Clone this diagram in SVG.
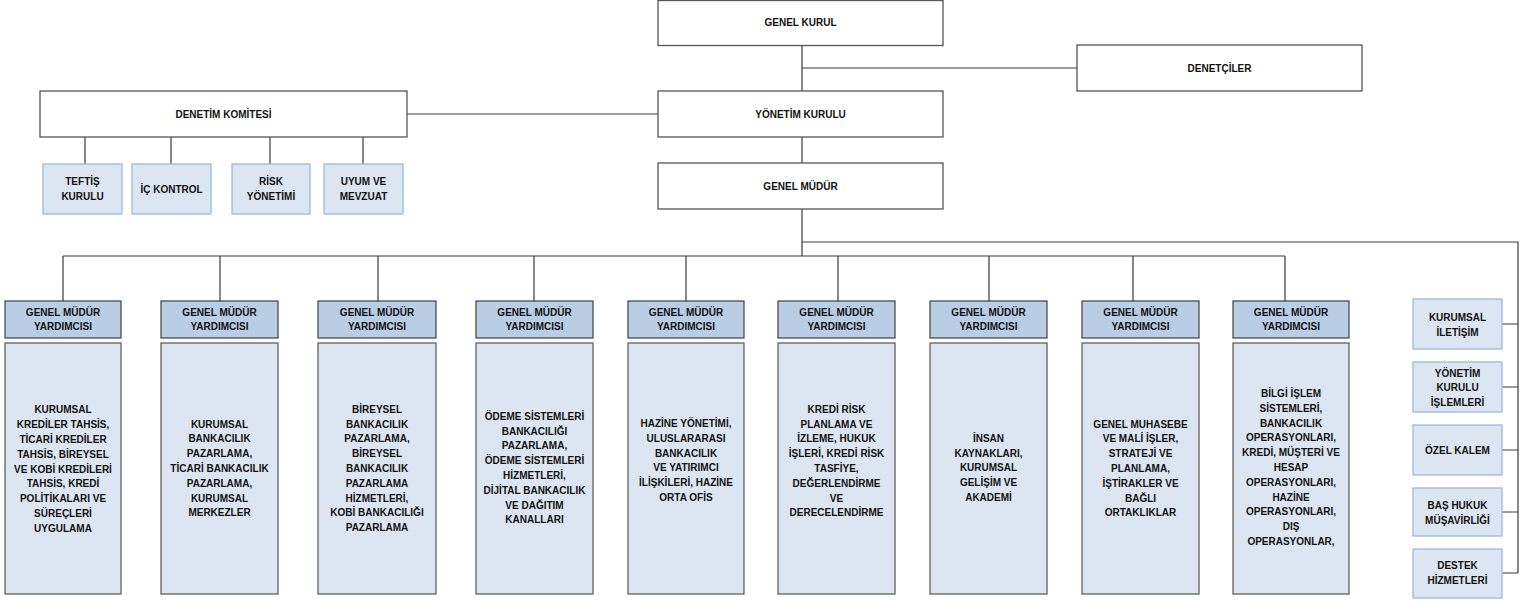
<svg xmlns="http://www.w3.org/2000/svg" width="1523" height="602" viewBox="0 0 1523 602">
<style>
text{font-family:"Liberation Sans",Arial,sans-serif;font-weight:bold;font-size:10px;fill:#111;text-anchor:middle}
.top{fill:#fff;stroke:#555;stroke-width:1.3}
.hdr{fill:#b9cde5;stroke:#404040;stroke-width:1.2}
.body{fill:#dce6f2;stroke:#555;stroke-width:1.2}
.sm{fill:#dce6f2;stroke:#9bb9dc;stroke-width:1.3}
.ln{stroke:#3a3a3a;stroke-width:1.2;fill:none}
</style>
<rect width="1523" height="602" fill="#fff"/>
<g id="connectors">
<path class="ln" d="M802 46V91M802 68H1077M407 114H658M802 137V163M802 209V256M63 256H1285"/>
<path class="ln" d="M63 256V301M220 256V301M378 256V301M534 256V301M686 256V301M838 256V301M989 256V301M1133 256V301M1285 256V301"/>
<path class="ln" stroke="#666" d="M802 242H1518V573M1502 324H1518M1502 387H1518M1502 450H1518M1502 512H1518M1502 573H1518"/>
<path class="ln" d="M85 137V164M171 137V164M270 137V164M363 137V164"/>
</g>
<g id="genel-kurul"><rect class="top" x="658" y="0.5" width="285" height="45"/><text x="800.5" y="25.5">GENEL KURUL</text></g>
<g id="denetciler"><rect class="top" x="1077" y="45" width="285" height="46"/><text x="1219.5" y="71.5">DENETÇİLER</text></g>
<g id="yonetim-kurulu"><rect class="top" x="658" y="91" width="285" height="46"/><text x="800.5" y="117.5">YÖNETİM KURULU</text></g>
<g id="denetim-komitesi"><rect class="top" x="40" y="91" width="367" height="46"/><text x="223.5" y="117.5">DENETİM KOMİTESİ</text></g>
<g id="genel-mudur"><rect class="top" x="658" y="163" width="285" height="46"/><text x="800.5" y="189.5">GENEL MÜDÜR</text></g>
<g id="teftis"><rect class="sm" x="43" y="164" width="79" height="50"/><text x="82.5" y="185"><tspan x="82.5">TEFTİŞ</tspan><tspan x="82.5" dy="15">KURULU</tspan></text></g>
<g id="ic-kontrol"><rect class="sm" x="132" y="164" width="79" height="50"/><text x="171.5" y="192.5">İÇ KONTROL</text></g>
<g id="risk"><rect class="sm" x="232" y="164" width="78" height="50"/><text x="271" y="185"><tspan x="271">RİSK</tspan><tspan x="271" dy="15">YÖNETİMİ</tspan></text></g>
<g id="uyum"><rect class="sm" x="324" y="164" width="79" height="50"/><text x="363.5" y="185"><tspan x="363.5">UYUM VE</tspan><tspan x="363.5" dy="15">MEVZUAT</tspan></text></g>

<g id="gmy1"><rect class="hdr" x="5" y="301" width="116" height="37"/><text y="316"><tspan x="63">GENEL MÜDÜR</tspan><tspan x="63" dy="14">YARDIMCISI</tspan></text>
<rect class="body" x="5" y="343" width="116" height="251"/><text y="413.3"><tspan x="63">KURUMSAL</tspan><tspan x="63" dy="14.8">KREDİLER TAHSİS,</tspan><tspan x="63" dy="14.8">TİCARİ KREDİLER</tspan><tspan x="63" dy="14.8">TAHSİS, BİREYSEL</tspan><tspan x="63" dy="14.8">VE KOBİ KREDİLERİ</tspan><tspan x="63" dy="14.8">TAHSİS, KREDİ</tspan><tspan x="63" dy="14.8">POLİTİKALARI VE</tspan><tspan x="63" dy="14.8">SÜREÇLERİ</tspan><tspan x="63" dy="14.8">UYGULAMA</tspan></text></g>

<g id="gmy2"><rect class="hdr" x="161" y="301" width="117" height="37"/><text y="316"><tspan x="219.5">GENEL MÜDÜR</tspan><tspan x="219.5" dy="14">YARDIMCISI</tspan></text>
<rect class="body" x="161" y="343" width="117" height="251"/><text y="427.6"><tspan x="219.5">KURUMSAL</tspan><tspan x="219.5" dy="14.8">BANKACILIK</tspan><tspan x="219.5" dy="14.8">PAZARLAMA,</tspan><tspan x="219.5" dy="14.8">TİCARİ BANKACILIK</tspan><tspan x="219.5" dy="14.8">PAZARLAMA,</tspan><tspan x="219.5" dy="14.8">KURUMSAL</tspan><tspan x="219.5" dy="14.8">MERKEZLER</tspan></text></g>

<g id="gmy3"><rect class="hdr" x="318" y="301" width="118" height="37"/><text y="316"><tspan x="377">GENEL MÜDÜR</tspan><tspan x="377" dy="14">YARDIMCISI</tspan></text>
<rect class="body" x="318" y="343" width="118" height="251"/><text y="412.8"><tspan x="377">BİREYSEL</tspan><tspan x="377" dy="14.8">BANKACILIK</tspan><tspan x="377" dy="14.8">PAZARLAMA,</tspan><tspan x="377" dy="14.8">BİREYSEL</tspan><tspan x="377" dy="14.8">BANKACILIK</tspan><tspan x="377" dy="14.8">PAZARLAMA</tspan><tspan x="377" dy="14.8">HİZMETLERİ,</tspan><tspan x="377" dy="14.8">KOBİ BANKACILIĞI</tspan><tspan x="377" dy="14.8">PAZARLAMA</tspan></text></g>

<g id="gmy4"><rect class="hdr" x="476" y="301" width="117" height="37"/><text y="316"><tspan x="534.5">GENEL MÜDÜR</tspan><tspan x="534.5" dy="14">YARDIMCISI</tspan></text>
<rect class="body" x="476" y="343" width="117" height="251"/><text y="419.7"><tspan x="534.5">ÖDEME SİSTEMLERİ</tspan><tspan x="534.5" dy="14.8">BANKACILIĞI</tspan><tspan x="534.5" dy="14.8">PAZARLAMA,</tspan><tspan x="534.5" dy="14.8">ÖDEME SİSTEMLERİ</tspan><tspan x="534.5" dy="14.8">HİZMETLERİ,</tspan><tspan x="534.5" dy="14.8">DİJİTAL BANKACILIK</tspan><tspan x="534.5" dy="14.8">VE DAĞITIM</tspan><tspan x="534.5" dy="14.8">KANALLARI</tspan></text></g>

<g id="gmy5"><rect class="hdr" x="628" y="301" width="116" height="37"/><text y="316"><tspan x="686">GENEL MÜDÜR</tspan><tspan x="686" dy="14">YARDIMCISI</tspan></text>
<rect class="body" x="628" y="343" width="116" height="251"/><text y="427"><tspan x="686">HAZİNE YÖNETİMİ,</tspan><tspan x="686" dy="14.8">ULUSLARARASI</tspan><tspan x="686" dy="14.8">BANKACILIK</tspan><tspan x="686" dy="14.8">VE YATIRIMCI</tspan><tspan x="686" dy="14.8">İLİŞKİLERİ, HAZİNE</tspan><tspan x="686" dy="14.8">ORTA OFİS</tspan></text></g>

<g id="gmy6"><rect class="hdr" x="778" y="301" width="117" height="37"/><text y="316"><tspan x="836.5">GENEL MÜDÜR</tspan><tspan x="836.5" dy="14">YARDIMCISI</tspan></text>
<rect class="body" x="778" y="343" width="117" height="251"/><text y="412.7"><tspan x="836.5">KREDİ RİSK</tspan><tspan x="836.5" dy="14.8">PLANLAMA VE</tspan><tspan x="836.5" dy="14.8">İZLEME, HUKUK</tspan><tspan x="836.5" dy="14.8">İŞLERİ, KREDİ RİSK</tspan><tspan x="836.5" dy="14.8">TASFİYE,</tspan><tspan x="836.5" dy="14.8">DEĞERLENDİRME</tspan><tspan x="836.5" dy="14.8">VE</tspan><tspan x="836.5" dy="14.8">DERECELENDİRME</tspan></text></g>

<g id="gmy7"><rect class="hdr" x="930" y="301" width="117" height="37"/><text y="316"><tspan x="988.5">GENEL MÜDÜR</tspan><tspan x="988.5" dy="14">YARDIMCISI</tspan></text>
<rect class="body" x="930" y="343" width="117" height="251"/><text y="441.8"><tspan x="988.5">İNSAN</tspan><tspan x="988.5" dy="14.8">KAYNAKLARI,</tspan><tspan x="988.5" dy="14.8">KURUMSAL</tspan><tspan x="988.5" dy="14.8">GELİŞİM VE</tspan><tspan x="988.5" dy="14.8">AKADEMİ</tspan></text></g>

<g id="gmy8"><rect class="hdr" x="1082" y="301" width="117" height="37"/><text y="316"><tspan x="1140.5">GENEL MÜDÜR</tspan><tspan x="1140.5" dy="14">YARDIMCISI</tspan></text>
<rect class="body" x="1082" y="343" width="117" height="251"/><text y="427.6"><tspan x="1140.5">GENEL MUHASEBE</tspan><tspan x="1140.5" dy="14.8">VE MALİ İŞLER,</tspan><tspan x="1140.5" dy="14.8">STRATEJİ VE</tspan><tspan x="1140.5" dy="14.8">PLANLAMA,</tspan><tspan x="1140.5" dy="14.8">İŞTİRAKLER VE</tspan><tspan x="1140.5" dy="14.8">BAĞLI</tspan><tspan x="1140.5" dy="14.8">ORTAKLIKLAR</tspan></text></g>

<g id="gmy9"><rect class="hdr" x="1233" y="301" width="116" height="37"/><text y="316"><tspan x="1291">GENEL MÜDÜR</tspan><tspan x="1291" dy="14">YARDIMCISI</tspan></text>
<rect class="body" x="1233" y="343" width="116" height="251"/><text y="397"><tspan x="1291">BİLGİ İŞLEM</tspan><tspan x="1291" dy="14.8">SİSTEMLERİ,</tspan><tspan x="1291" dy="14.8">BANKACILIK</tspan><tspan x="1291" dy="14.8">OPERASYONLARI,</tspan><tspan x="1291" dy="14.8">KREDİ, MÜŞTERİ VE</tspan><tspan x="1291" dy="14.8">HESAP</tspan><tspan x="1291" dy="14.8">OPERASYONLARI,</tspan><tspan x="1291" dy="14.8">HAZİNE</tspan><tspan x="1291" dy="14.8">OPERASYONLARI,</tspan><tspan x="1291" dy="14.8">DIŞ</tspan><tspan x="1291" dy="14.8">OPERASYONLAR,</tspan></text></g>

<g id="kurumsal-iletisim"><rect class="sm" x="1413" y="299" width="89" height="50"/><text y="320.5"><tspan x="1457.5">KURUMSAL</tspan><tspan x="1457.5" dy="15">İLETİŞİM</tspan></text></g>
<g id="yk-islemleri"><rect class="sm" x="1413" y="362" width="89" height="50"/><text y="376.5"><tspan x="1457.5">YÖNETİM</tspan><tspan x="1457.5" dy="14.5">KURULU</tspan><tspan x="1457.5" dy="14.5">İŞLEMLERİ</tspan></text></g>
<g id="ozel-kalem"><rect class="sm" x="1413" y="425" width="89" height="50"/><text x="1457.5" y="453.5">ÖZEL KALEM</text></g>
<g id="bas-hukuk"><rect class="sm" x="1413" y="488" width="89" height="48"/><text y="508.5"><tspan x="1457.5">BAŞ HUKUK</tspan><tspan x="1457.5" dy="15">MÜŞAVİRLİĞİ</tspan></text></g>
<g id="destek"><rect class="sm" x="1413" y="549" width="89" height="49"/><text y="569"><tspan x="1457.5">DESTEK</tspan><tspan x="1457.5" dy="15">HİZMETLERİ</tspan></text></g>
</svg>
